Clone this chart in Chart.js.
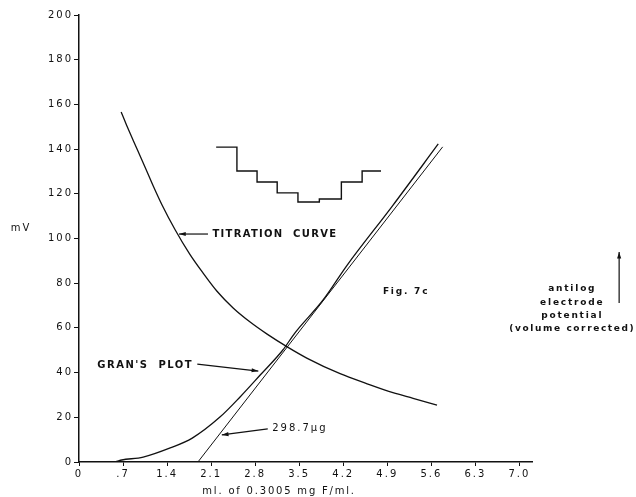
<!DOCTYPE html>
<html>
<head>
<meta charset="utf-8">
<script src="https://cdn.jsdelivr.net/npm/chart.js@4"></script>
<style>
  body { margin: 0; background: #fff; }
</style>
</head>
<body>
<canvas id="chart" width="636" height="497"></canvas>
<script>
// titration curve, mV vs ml
const titrationMl = [0.67, 0.76, 0.86, 0.97, 1.08, 1.18, 1.32, 1.53, 1.76, 1.97, 2.19, 2.45, 2.72, 2.99, 3.31, 3.62, 4.15, 4.58, 4.99, 5.31, 5.69];
const titrationMv = [156.6, 150.5, 144.0, 137.0, 130.0, 123.5, 115.0, 103.8, 93.0, 84.6, 76.5, 68.9, 62.6, 57.2, 51.5, 46.5, 39.5, 35.0, 31.0, 28.5, 25.5];

// Gran's plot (antilog potential, volume corrected)
const granMl = [0.0, 0.55, 0.68, 1.02, 1.45, 1.80, 2.24, 2.56, 2.88, 3.24, 3.43, 3.88, 4.26, 4.98, 5.71];
const granMv = [0.0, 0.0, 0.9, 2.2, 6.3, 10.7, 20.1, 29.1, 38.9, 50.1, 57.7, 72.5, 88.0, 114.5, 142.3];

// extrapolated straight line to the end point
const lineMl = [1.89, 5.78];
const lineMv = [0, 141];

// stepped inset trace
const stepMl = [2.18, 2.51, 2.83, 3.15, 3.48, 3.82, 4.17, 4.50, 4.80];
const stepMv = [140.9, 130.2, 125.3, 120.4, 116.3, 117.7, 125.3, 130.2, 130.2];

const xTickVals = [0, 0.7, 1.4, 2.1, 2.8, 3.5, 4.2, 4.9, 5.6, 6.3, 7.0];
const xTickLabels = ['0', '.7', '1.4', '2.1', '2.8', '3.5', '4.2', '4.9', '5.6', '6.3', '7.0'];
const yTickVals = [0, 20, 40, 60, 80, 100, 120, 140, 160, 180, 200];

const ink = '#111';

function pts(xs, ys) {
    return xs.map((x, i) => ({ x: x, y: ys[i] }));
}

function lineSet(xs, ys, extra) {
    return Object.assign({
        data: pts(xs, ys),
        borderColor: ink,
        borderWidth: 1.3,
        pointRadius: 0,
        fill: false
    }, extra || {});
}

// text and arrows, placed in data units
const notes = [
    { text: 'TITRATION  CURVE', x: 2.12, y: 102, font: 'bold 10px "DejaVu Sans"', align: 'left', sp: '1.3px' },
    { text: "GRAN'S  PLOT", x: 0.29, y: 43.4, font: 'bold 10px "DejaVu Sans"', align: 'left', sp: '1.5px' },
    { text: '298.7\u00b5g', x: 3.07, y: 15.2, font: '10px "DejaVu Sans"', align: 'left', sp: '2px' },
    { text: 'Fig. 7c', x: 4.83, y: 76.1, font: 'bold 9px "DejaVu Sans"', align: 'left', sp: '1.8px' },
    { text: 'antilog', x: 7.84, y: 77.4, font: 'bold 9px "DejaVu Sans"', align: 'center', sp: '1.8px' },
    { text: 'electrode', x: 7.84, y: 71.2, font: 'bold 9px "DejaVu Sans"', align: 'center', sp: '1.8px' },
    { text: 'potential', x: 7.84, y: 65.3, font: 'bold 9px "DejaVu Sans"', align: 'center', sp: '1.8px' },
    { text: '(volume corrected)', x: 7.84, y: 59.5, font: 'bold 9px "DejaVu Sans"', align: 'center', sp: '1.6px' },
    { text: 'mV', x: -0.92, y: 104.3, font: '10px "DejaVu Sans"', align: 'center', sp: '2px' },
    { text: 'ml. of 0.3005 mg F/ml.', x: 3.18, y: -13, font: '10px "DejaVu Sans"', align: 'center', sp: '1.8px' }
];

const arrows = [
    { from: [2.05, 102], to: [1.59, 102] },
    { from: [1.88, 43.8], to: [2.85, 40.7] },
    { from: [3.0, 14.8], to: [2.27, 12.1] },
    { from: [8.585, 71.1], to: [8.585, 94.0] }
];

const notesPlugin = {
    id: 'notes',
    beforeDraw(chart) {
        chart.ctx.letterSpacing = '2px';
    },
    afterDraw(chart) {
        const ctx = chart.ctx;
        const xs = chart.scales.x, ys = chart.scales.y;
        ctx.save();
        ctx.fillStyle = ink;
        ctx.strokeStyle = ink;
        ctx.textBaseline = 'middle';
        notes.forEach(n => {
            ctx.font = n.font;
            ctx.letterSpacing = n.sp;
            ctx.textAlign = n.align;
            ctx.fillText(n.text, xs.getPixelForValue(n.x), ys.getPixelForValue(n.y));
        });
        ctx.lineWidth = 1.2;
        arrows.forEach(a => {
            const x1 = xs.getPixelForValue(a.from[0]), y1 = ys.getPixelForValue(a.from[1]);
            const x2 = xs.getPixelForValue(a.to[0]), y2 = ys.getPixelForValue(a.to[1]);
            ctx.beginPath();
            ctx.moveTo(x1, y1);
            ctx.lineTo(x2, y2);
            ctx.stroke();
            const ang = Math.atan2(y2 - y1, x2 - x1);
            ctx.beginPath();
            ctx.moveTo(x2, y2);
            ctx.lineTo(x2 - 7 * Math.cos(ang - 0.3), y2 - 7 * Math.sin(ang - 0.3));
            ctx.lineTo(x2 - 7 * Math.cos(ang + 0.3), y2 - 7 * Math.sin(ang + 0.3));
            ctx.closePath();
            ctx.fill();
        });
        ctx.restore();
    }
};

const tickFont = { family: 'DejaVu Sans', size: 10 };

new Chart(document.getElementById('chart').getContext('2d'), {
    type: 'line',
    data: {
        datasets: [
            lineSet(titrationMl, titrationMv, { cubicInterpolationMode: 'monotone' }),
            lineSet(granMl, granMv, { cubicInterpolationMode: 'monotone' }),
            lineSet(lineMl, lineMv, { borderWidth: 1 }),
            lineSet(stepMl, stepMv, { stepped: 'before', borderWidth: 1.4 })
        ]
    },
    options: {
        responsive: false,
        animation: false,
        devicePixelRatio: 1,
        layout: { padding: { top: 15, right: 104, bottom: 0, left: 0 } },
        plugins: {
            legend: { display: false },
            tooltip: { enabled: false }
        },
        scales: {
            x: {
                type: 'linear',
                min: 0,
                max: 7.2,
                afterBuildTicks: s => { s.ticks = xTickVals.map(v => ({ value: v })); },
                afterFit: s => { s.height = 35; },
                ticks: {
                    callback: (v, i) => xTickLabels[i],
                    font: tickFont,
                    color: ink,
                    padding: 2,
                    maxRotation: 0,
                    autoSkip: false
                },
                grid: { drawOnChartArea: false, tickLength: 4, color: ink, lineWidth: 1 },
                border: { color: ink, width: 1.5 }
            },
            y: {
                min: 0,
                max: 200,
                afterBuildTicks: s => { s.ticks = yTickVals.map(v => ({ value: v })); },
                afterFit: s => { s.width = 79; },
                ticks: {
                    font: tickFont,
                    color: ink,
                    padding: 1
                },
                grid: { drawOnChartArea: false, tickLength: 5, color: ink, lineWidth: 1 },
                border: { color: ink, width: 1.5 }
            }
        }
    },
    plugins: [notesPlugin]
});
</script>
</body>
</html>
